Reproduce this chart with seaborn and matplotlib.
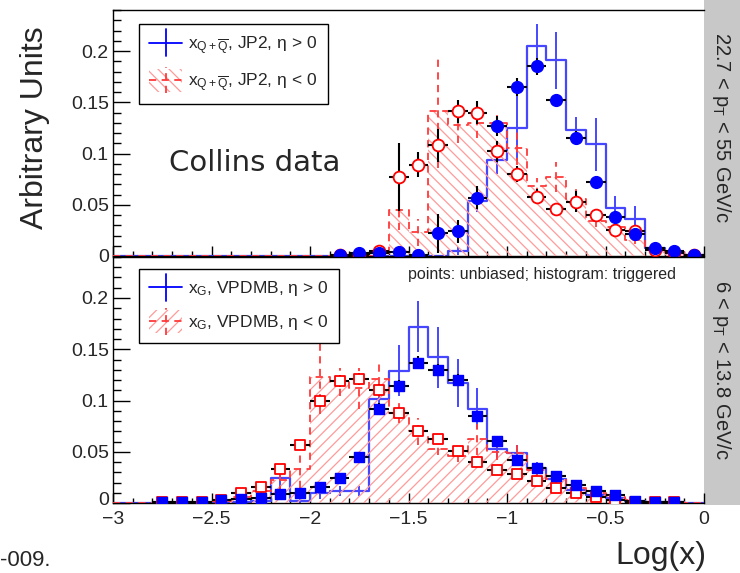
import numpy as np
import pandas as pd
import matplotlib
matplotlib.use("Agg")
import matplotlib.pyplot as plt
import seaborn as sns
from matplotlib.patches import Rectangle
from matplotlib.lines import Line2D
from matplotlib.legend_handler import HandlerBase
from matplotlib.ticker import MultipleLocator, FuncFormatter
from matplotlib.transforms import ScaledTranslation

# ---------------------------------------------------------------- data
# histogram binning in log10(x): 30 bins of width 0.1 from -3 to 0
bin_edges = np.linspace(-3.0, 0.0, 31)

# upper panel: Collins data, 22.7 < pT < 55 GeV/c (JP2 trigger)
top_pt_x = [-1.85, -1.75, -1.65, -1.55, -1.45, -1.35, -1.25, -1.15, -1.05, -0.95,
            -0.85, -0.75, -0.65, -0.55, -0.45, -0.35, -0.25, -0.15, -0.05]
top_pos_pts = [0.001, 0.003, 0.003, 0.004, 0.001, 0.022, 0.024, 0.057, 0.127, 0.165,
               0.185, 0.152, 0.115, 0.072, 0.038, 0.021, 0.008, 0.0045, 0.001]
top_pos_err = [0.001, 0.002, 0.002, 0.003, 0.001, 0.019, 0.011, 0.011, 0.010, 0.009,
               0.008, 0.006, 0.007, 0.006, 0.005, 0.004, 0.003, 0.002, 0.001]
top_neg_pts = [0.001, 0.001, 0.005, 0.077, 0.089, 0.108, 0.141, 0.140, 0.102, 0.080,
               0.058, 0.046, 0.053, 0.040, 0.025, 0.024, 0.006, 0.003, 0.001]
top_neg_err = [0.001, 0.001, 0.003, 0.033, 0.012, 0.016, 0.011, 0.011, 0.010, 0.008,
               0.007, 0.005, 0.010, 0.006, 0.004, 0.004, 0.002, 0.002, 0.001]

top_pos_hist = [0, 0, 0, 0, 0, 0, 0, 0, 0, 0, 0, 0, 0, 0, 0, 0, 0,
                0.005, 0.054, 0.094, 0.125, 0.205, 0.191, 0.123, 0.109, 0.0465,
                0.036, 0.0075, 0.004, 0.001]
top_pos_herr = [0, 0, 0, 0, 0, 0, 0, 0, 0, 0, 0, 0, 0, 0, 0, 0, 0,
                0.004, 0.011, 0.014, 0.032, 0.021, 0.028, 0.013, 0.026, 0.012,
                0.013, 0.003, 0.002, 0.001]
top_neg_hist = [0, 0, 0, 0, 0, 0, 0, 0, 0, 0, 0, 0, 0, 0,
                0.045, 0.023, 0.141, 0.128, 0.130, 0.130, 0.105, 0.068, 0.077,
                0.056, 0.034, 0.028, 0.016, 0.006, 0.004, 0.001]
top_neg_herr = [0, 0, 0, 0, 0, 0, 0, 0, 0, 0, 0, 0, 0, 0,
                0.020, 0.013, 0.055, 0.018, 0.015, 0.012, 0.016, 0.008, 0.015,
                0.010, 0.006, 0.006, 0.004, 0.003, 0.002, 0.001]

# lower panel: 6 < pT < 13.8 GeV/c (VPDMB trigger)
bot_pt_x = [-2.75, -2.65, -2.55, -2.45, -2.35, -2.25, -2.15, -2.05, -1.95, -1.85,
            -1.75, -1.65, -1.55, -1.45, -1.35, -1.25, -1.15, -1.05, -0.95, -0.85,
            -0.75, -0.65, -0.55, -0.45, -0.35, -0.25, -0.15]
bot_pos_pts = [0.001, 0.001, 0.001, 0.003, 0.004, 0.005, 0.0088, 0.0094, 0.0155, 0.024,
               0.045, 0.0914, 0.114, 0.137, 0.130, 0.120, 0.085, 0.0605, 0.042, 0.034,
               0.0264, 0.018, 0.0117, 0.0078, 0.002, 0.001, 0.001]
bot_pos_err = [0.001, 0.001, 0.001, 0.002, 0.002, 0.003, 0.003, 0.003, 0.004, 0.004,
               0.005, 0.006, 0.006, 0.006, 0.006, 0.006, 0.005, 0.005, 0.004, 0.004,
               0.004, 0.003, 0.003, 0.002, 0.002, 0.001, 0.001]
bot_neg_pts = [0.001, 0.001, 0.001, 0.003, 0.010, 0.016, 0.0335, 0.0566, 0.0996, 0.119,
               0.121, 0.110, 0.0875, 0.0706, 0.062, 0.051, 0.040, 0.032, 0.028, 0.021,
               0.015, 0.0094, 0.0062, 0.003, 0.001, 0.001, 0.001]
bot_neg_err = [0.001, 0.001, 0.001, 0.002, 0.003, 0.003, 0.004, 0.005, 0.006, 0.006,
               0.006, 0.006, 0.005, 0.005, 0.004, 0.004, 0.004, 0.003, 0.003, 0.003,
               0.003, 0.002, 0.002, 0.002, 0.001, 0.001, 0.001]

bot_pos_hist = [0, 0, 0, 0, 0, 0, 0.001, 0.002, 0.024, 0.002,
                0.010, 0.012, 0.012, 0.101, 0.129, 0.172, 0.142, 0.117, 0.092, 0.053,
                0.0485, 0.034, 0.023, 0.013, 0.0078, 0.005, 0.002, 0.001, 0.0005, 0]
bot_pos_herr = [0, 0, 0, 0, 0, 0, 0.001, 0.002, 0.012, 0.002,
                0.006, 0.005, 0.005, 0.012, 0.025, 0.025, 0.030, 0.023, 0.020, 0.010,
                0.008, 0.006, 0.005, 0.004, 0.003, 0.002, 0.001, 0.001, 0.001, 0]
bot_neg_hist = [0, 0, 0, 0, 0, 0.002, 0.006, 0.012, 0.022, 0.033,
                0.123, 0.118, 0.112, 0.121, 0.088, 0.070, 0.053, 0.046, 0.062, 0.050,
                0.049, 0.032, 0.023, 0.015, 0.010, 0.006, 0.003, 0.001, 0.0005, 0]
bot_neg_herr = [0, 0, 0, 0, 0, 0.002, 0.003, 0.005, 0.012, 0.018,
                0.036, 0.014, 0.020, 0.018, 0.010, 0.013, 0.006, 0.006, 0.015, 0.008,
                0.012, 0.006, 0.005, 0.004, 0.003, 0.003, 0.002, 0.001, 0.001, 0]

x_ticks = [-3, -2.5, -2, -1.5, -1, -0.5, 0]
y_ticks = [0, 0.05, 0.1, 0.15, 0.2]

# ---------------------------------------------------------------- style
sns.set_style("ticks")
plt.rcParams["font.family"] = ["Liberation Sans", "DejaVu Sans"]
plt.rcParams["mathtext.fontset"] = "custom"
plt.rcParams["mathtext.rm"] = "Liberation Sans"
plt.rcParams["mathtext.it"] = "Liberation Sans:italic"
plt.rcParams["mathtext.sf"] = "Liberation Sans"
plt.rcParams["hatch.linewidth"] = 0.9
plt.rcParams["axes.unicode_minus"] = True

BLUE = "#0000ff"
BLUE_H = "#4646ff"
RED = "#ff0000"
RED_H = "#ff3a3a"
HATCH_C = "#ff9a9a"
GRAY = "#c8c8c8"

W, H = 740, 573
fig = plt.figure(figsize=(W / 100, H / 100), dpi=100)

def fx(px):
    return px / W

def fy(py):
    return 1 - py / H

left, right = 113, 704
ax_top = fig.add_axes([fx(left), fy(256), fx(right - left), (256 - 10) / H])
ax_bot = fig.add_axes([fx(left), fy(503), fx(right - left), (503 - 257) / H])

# grey strip holding the pT ranges
fig.add_artist(Rectangle((fx(right), fy(505)), 1 - fx(right), 505 / H,
                         transform=fig.transFigure, facecolor=GRAY,
                         edgecolor="none", zorder=0))


class CrossHandler(HandlerBase):
    """Legend key: horizontal + vertical error-bar cross, optional hatched box."""

    def __init__(self, color, ls, hatch=None, hatch_color=None):
        super().__init__()
        self.color = color
        self.ls = ls
        self.hatch = hatch
        self.hatch_color = hatch_color

    def create_artists(self, legend, orig_handle, xdescent, ydescent,
                       width, height, fontsize, trans):
        x0, y0 = -xdescent, -ydescent
        arts = []
        if self.hatch:
            arts.append(Rectangle((x0, y0 - 0.45 * height), width, 1.9 * height,
                                  facecolor="none", edgecolor=self.hatch_color,
                                  linewidth=0, hatch=self.hatch, transform=trans))
        yc = y0 + height / 2
        arts.append(Line2D([x0, x0 + width], [yc, yc], color=self.color,
                           linestyle=self.ls, lw=1.3, transform=trans))
        arts.append(Line2D([x0 + width / 2] * 2, [y0 - 0.6 * height, y0 + 1.6 * height],
                           color=self.color, linestyle=self.ls, lw=1.3, transform=trans))
        return arts


def draw_panel(ax, pt_x, pos_pts, pos_err, neg_pts, neg_err,
               pos_hist, pos_herr, neg_hist, neg_herr, marker, msize, hatch):
    centers = 0.5 * (bin_edges[:-1] + bin_edges[1:])
    neg_ext = np.append(neg_hist, neg_hist[-1])
    pos_ext = np.append(pos_hist, pos_hist[-1])

    # eta > 0 triggered histogram (solid blue)
    sns.lineplot(x=bin_edges, y=pos_ext, ax=ax, drawstyle="steps-post",
                 color=BLUE_H, lw=1.6, estimator=None, sort=False, zorder=2)
    # eta < 0 triggered histogram (hatched, dashed red)
    ax.fill_between(bin_edges, neg_ext, step="post", facecolor="none",
                    edgecolor=HATCH_C, linewidth=0, hatch=hatch, zorder=3)
    sns.lineplot(x=bin_edges, y=neg_ext, ax=ax, drawstyle="steps-post",
                 color=RED_H, lw=1.3, linestyle=(0, (4, 3)), estimator=None,
                 sort=False, zorder=3)

    pos_h = np.array(pos_hist)
    pos_e = np.array(pos_herr)
    m = pos_h > 0
    ax.vlines(centers[m], (pos_h - pos_e)[m], (pos_h + pos_e)[m],
              colors=BLUE_H, lw=1.4, zorder=2)
    neg_h = np.array(neg_hist)
    neg_e = np.array(neg_herr)
    m = neg_h > 0
    ax.vlines(centers[m], (neg_h - neg_e)[m], (neg_h + neg_e)[m],
              colors=RED_H, lw=1.3, linestyles=(0, (4, 3)), zorder=3)

    # unbiased points with black error bars
    ax.errorbar(pt_x, neg_pts, xerr=0.05, yerr=neg_err, fmt="none",
                ecolor="black", elinewidth=1.5, capsize=0, zorder=4)
    ax.errorbar(pt_x, pos_pts, xerr=0.05, yerr=pos_err, fmt="none",
                ecolor="black", elinewidth=1.5, capsize=0, zorder=4)
    pts = pd.DataFrame({"x": pt_x, "pos": pos_pts, "neg": neg_pts})
    sns.scatterplot(data=pts, x="x", y="neg", ax=ax, marker=marker, s=msize,
                    facecolor="white", edgecolor=RED, linewidth=1.3, zorder=5)
    sns.scatterplot(data=pts, x="x", y="pos", ax=ax, marker=marker, s=msize,
                    facecolor=BLUE, edgecolor=BLUE, linewidth=1.0, zorder=6)

    ax.set_xlim(-3, 0)
    ax.set_ylim(0, 0.24)
    ax.set_xticks(x_ticks)
    ax.set_yticks(y_ticks)
    ax.xaxis.set_minor_locator(MultipleLocator(0.1))
    ax.yaxis.set_minor_locator(MultipleLocator(0.01))
    fmt = FuncFormatter(lambda v, p: f"{v:g}".replace("-", "\u2212"))
    ax.xaxis.set_major_formatter(fmt)
    ax.yaxis.set_major_formatter(fmt)
    ax.tick_params(which="both", direction="in", top=False, right=False,
                   labelsize=14, width=1, color="black")
    ax.tick_params(axis="y", which="major", length=12, pad=3)
    ax.tick_params(axis="y", which="minor", length=6)
    ax.tick_params(axis="x", which="major", length=7, pad=6)
    ax.tick_params(axis="x", which="minor", length=3.5)
    ax.set_xlabel("")
    ax.set_ylabel("")
    for side in ("left", "bottom", "top"):
        ax.spines[side].set_color("black")
        ax.spines[side].set_linewidth(1.0)
    ax.spines["right"].set_visible(False)
    ax.set_facecolor("white")


draw_panel(ax_top, top_pt_x, top_pos_pts, top_pos_err, top_neg_pts, top_neg_err,
           top_pos_hist, top_pos_herr, top_neg_hist, top_neg_herr,
           "o", 72, "\\\\\\")
draw_panel(ax_bot, bot_pt_x, bot_pos_pts, bot_pos_err, bot_neg_pts, bot_neg_err,
           bot_pos_hist, bot_pos_herr, bot_neg_hist, bot_neg_herr,
           "s", 56, "///")
ax_top.tick_params(axis="x", labelbottom=False)
# lift the lowest label of the lower y axis clear of the x labels
zero_lbl = ax_bot.get_yticklabels()[0]
zero_lbl.set_va("bottom")
zero_lbl.set_transform(zero_lbl.get_transform()
                       + ScaledTranslation(0, -4 / 72, fig.dpi_scale_trans))


def add_legend(ax, labels, hatch, anchor):
    h_pos, h_neg = Line2D([], []), Line2D([], [])
    leg = ax.legend([h_pos, h_neg], labels,
                    handler_map={h_pos: CrossHandler(BLUE, "-"),
                                 h_neg: CrossHandler(RED_H, (0, (4, 3)), hatch, HATCH_C)},
                    loc="upper left", bbox_to_anchor=anchor, borderaxespad=0,
                    fontsize=12.5, frameon=True, fancybox=False, framealpha=1,
                    edgecolor="black", borderpad=0.6, labelspacing=0.85,
                    handlelength=1.9, handletextpad=0.35)
    leg.get_frame().set_linewidth(1.0)
    leg.set_zorder(10)


add_legend(ax_top,
           [r"x$_{\mathrm{Q+}\overline{\mathrm{Q}}}$, JP2, η > 0",
            r"x$_{\mathrm{Q+}\overline{\mathrm{Q}}}$, JP2, η < 0"],
           "\\\\\\", (0.044, 0.945))
add_legend(ax_bot,
           [r"x$_{\mathrm{G}}$, VPDMB, η > 0",
            r"x$_{\mathrm{G}}$, VPDMB, η < 0"],
           "///", (0.044, 0.951))

# annotations
fig.text(fx(255), fy(163), "Collins data", fontsize=21, family="DejaVu Sans",
         ha="center", va="center")
fig.text(fx(676), fy(274), "points: unbiased; histogram: triggered",
         fontsize=11.5, ha="right", va="center")
fig.text(fx(35), fy(128), "Arbitrary Units", rotation=90, fontsize=23,
         ha="center", va="center")
fig.text(fx(706), fy(556), "Log(x)", fontsize=23, ha="right", va="center")
fig.text(fx(0), fy(560), "-009.", fontsize=16, ha="left", va="center")
fig.text(fx(722), fy(127), r"22.7 < p$_{\mathrm{T}}$ < 55 GeV/c", rotation=270,
         fontsize=14.5, ha="center", va="center")
fig.text(fx(722), fy(370), r"6 < p$_{\mathrm{T}}$ < 13.8 GeV/c", rotation=270,
         fontsize=14.5, ha="center", va="center")

fig.savefig("out.png", dpi=100)
